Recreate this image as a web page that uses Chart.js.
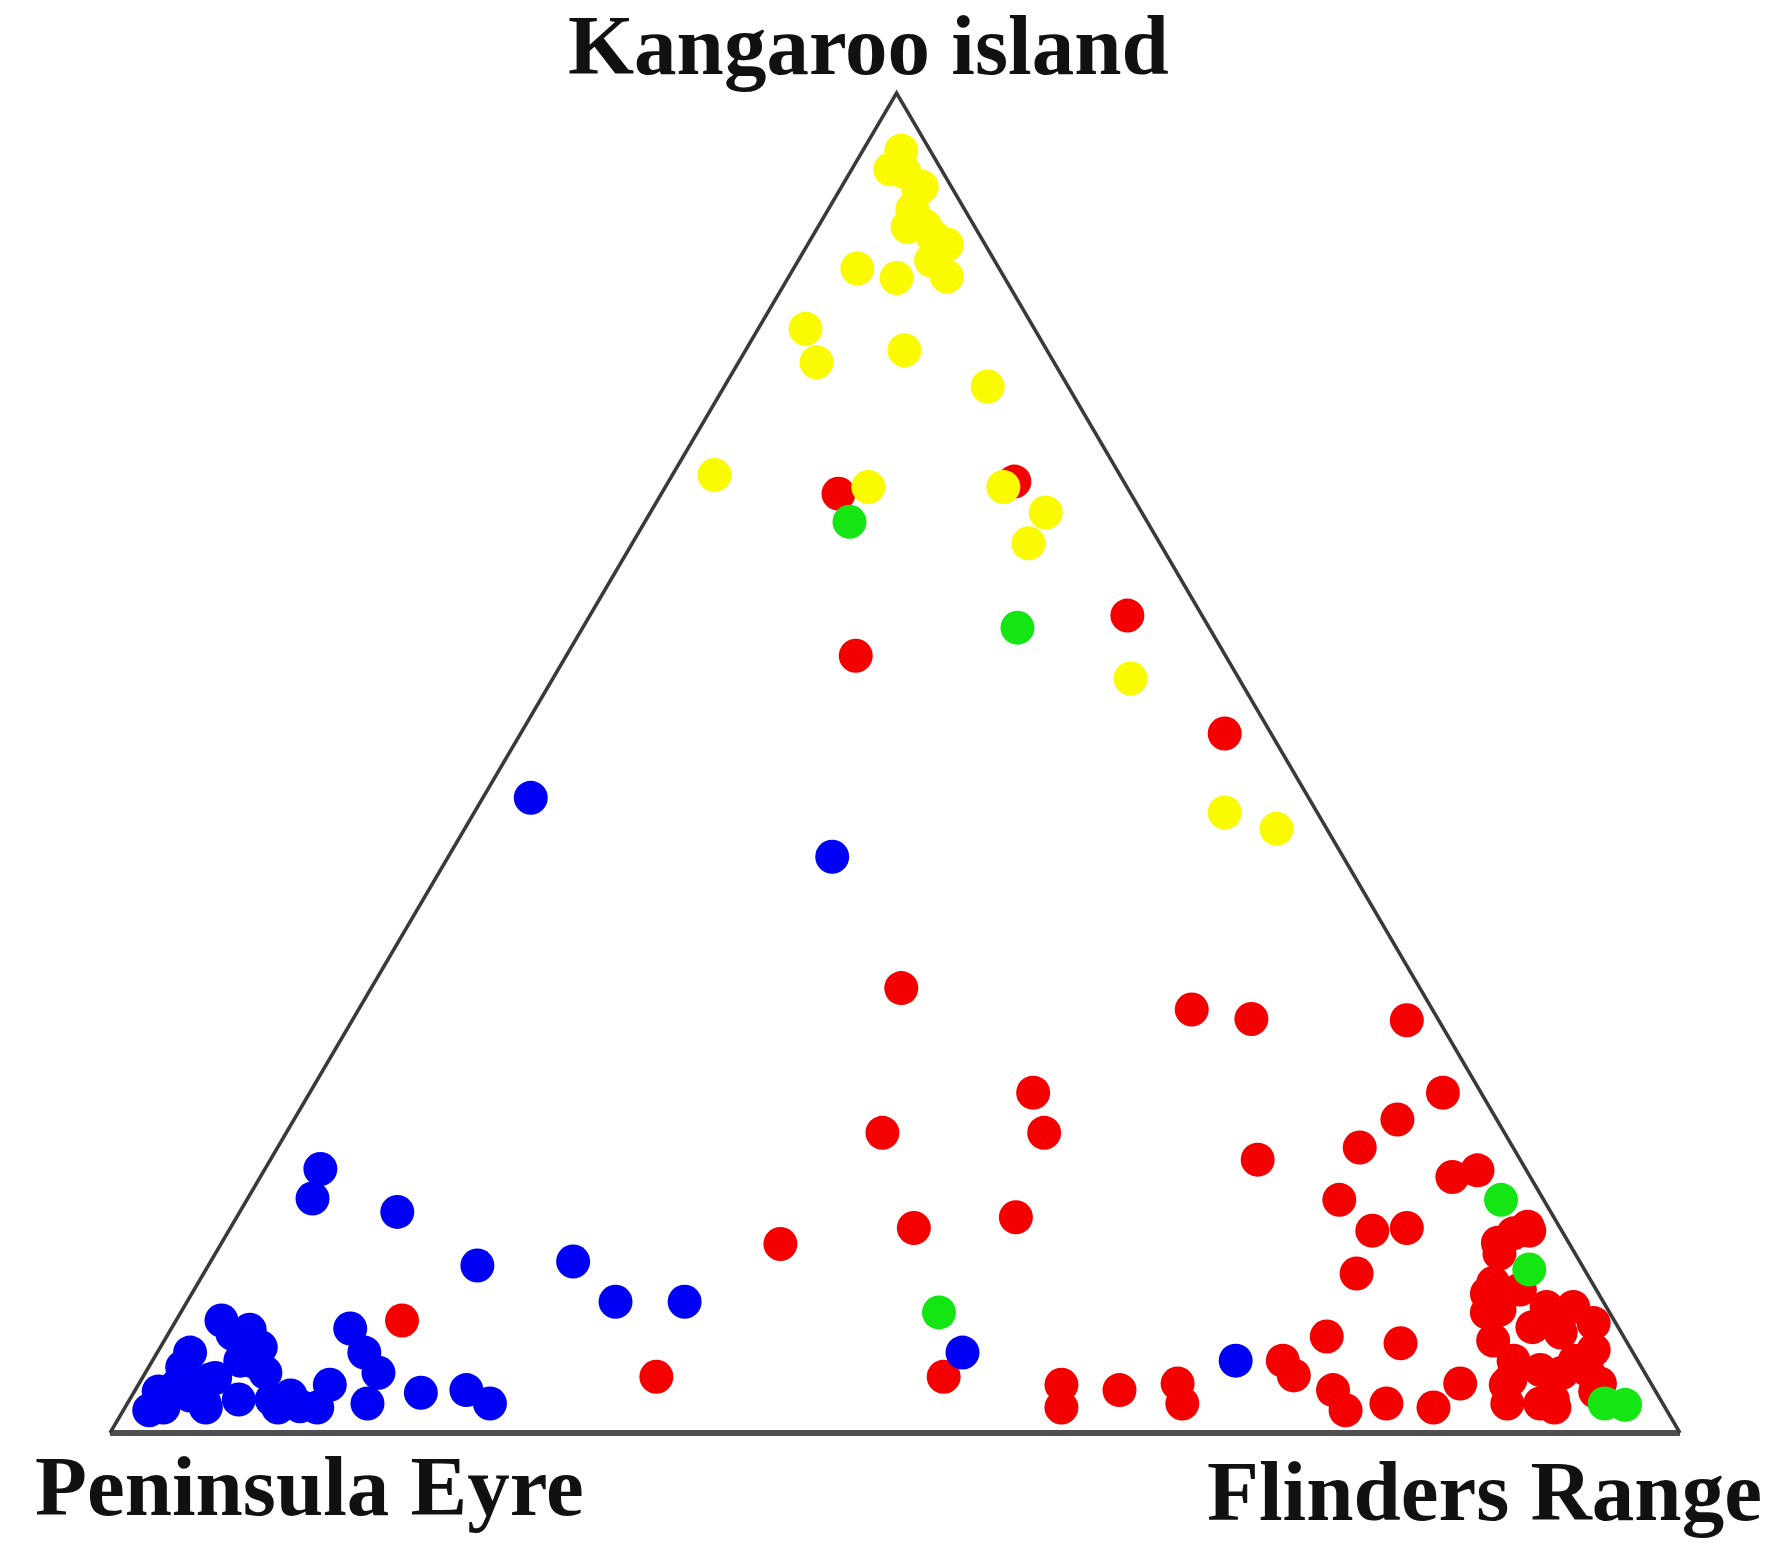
<!DOCTYPE html>
<html>
<head>
<meta charset="utf-8">
<title>Ternary plot</title>
<script src="https://cdn.jsdelivr.net/npm/chart.js@4.4.1/dist/chart.umd.min.js"></script>
<style>
    body { margin: 0; background: #fff; }
    #wrap { position: relative; width: 1780px; height: 1558px; }
    #chart { position: absolute; left: 0; top: 0; }
    .corner {
        position: absolute;
        font-family: "Liberation Serif", "Times New Roman", serif;
        font-weight: bold;
        font-size: 85px;
        line-height: 85px;
        color: #111;
        white-space: nowrap;
    }
</style>
</head>
<body>
<div id="wrap">
    <canvas id="chart" width="1780" height="1558"></canvas>
    <div class="corner" style="left:568px; top:3px;">Kangaroo island</div>
    <div class="corner" style="left:35px; top:1444px;">Peninsula Eyre</div>
    <div class="corner" style="left:1207px; top:1449px;">Flinders Range</div>
</div>
<script>
// Toạ độ trong tam giác: x = 0..100 dọc cạnh đáy, y = 0..100 theo chiều cao (đỉnh = Kangaroo island)
const frame = [[0, 0], [100, 0], [50.1, 100], [0, 0]];

// Nhóm vàng
const yellowPts = [
    [50.4, 95.7], [50.6, 94.1], [51.5, 92.8], [51.1, 91.3], [51.9, 90.1],
    [53.3, 88.7], [53.3, 86.3], [47.6, 86.9], [50.1, 86.2], [44.3, 82.4],
    [45.0, 79.9], [50.6, 80.8], [55.9, 78.1], [38.5, 71.5], [48.3, 70.6],
    [56.9, 70.6], [59.6, 68.7], [58.5, 66.4], [65.0, 56.3], [71.0, 46.3],
    [74.3, 45.1], [52.4, 89.3], [49.7, 94.3], [51.7, 93.0], [52.3, 87.5],
    [50.8, 90.0]
];

// Nhóm đỏ
const redPts = [
    [46.4, 70.1], [57.6, 71.0], [64.8, 61.0], [47.5, 58.0], [71.0, 52.2],
    [50.4, 33.2], [68.9, 31.6], [72.7, 30.9], [82.6, 30.8], [58.8, 25.4],
    [59.5, 22.4], [49.2, 22.4], [84.9, 25.4], [82.0, 23.4], [79.6, 21.3],
    [73.1, 20.4], [57.7, 16.1], [51.2, 15.3], [42.7, 14.1], [78.3, 17.4],
    [85.5, 19.1], [87.1, 19.6], [80.4, 15.1], [82.6, 15.3], [79.4, 11.9],
    [18.6, 8.4], [34.8, 4.2], [53.1, 4.2], [60.6, 3.6], [60.6, 1.9],
    [64.3, 3.2], [68.0, 3.7], [68.3, 2.2], [74.7, 5.4], [75.4, 4.3],
    [77.5, 7.2], [77.9, 3.2], [78.7, 1.7], [81.3, 2.2], [82.2, 6.7],
    [84.3, 1.9], [86.0, 3.7], [89.0, 2.2],
    [89.4, 14.9], [90.4, 15.1], [88.5, 13.4], [88.1, 11.2], [87.7, 9.0],
    [88.1, 6.9], [89.4, 5.4], [91.1, 4.7], [92.5, 4.5], [94.1, 4.7],
    [94.5, 6.2], [94.5, 8.2], [93.2, 9.4], [91.5, 9.4], [90.6, 7.9],
    [92.4, 7.5], [91.9, 2.5], [91.1, 2.2], [94.9, 3.7], [89.8, 10.7],
    [88.9, 3.6], [88.5, 9.2], [93.3, 5.4], [89.2, 4.0], [93.5, 5.3],
    [94.6, 3.1], [92.0, 1.9], [88.4, 14.2], [90.3, 15.4], [87.7, 10.4]
];

// Nhóm xanh dương
const bluePts = [
    [26.8, 47.4], [46.0, 43.0], [54.3, 6.0], [71.7, 5.4], [13.4, 19.7],
    [12.9, 17.5], [18.3, 16.5], [23.4, 12.5], [29.5, 12.8], [32.2, 9.8],
    [36.6, 9.8],
    [7.1, 8.4], [5.1, 6.0], [9.6, 6.4], [4.3, 3.6], [6.7, 4.1],
    [9.9, 4.5], [3.4, 1.9], [6.1, 1.9], [8.2, 2.5], [10.3, 2.5],
    [12.1, 2.0], [13.2, 1.9], [14.0, 3.6], [15.3, 7.8], [16.2, 6.0],
    [17.1, 4.5], [16.4, 2.2], [19.8, 3.0], [22.7, 3.2], [24.2, 2.2],
    [2.5, 1.7], [5.1, 2.8], [8.3, 5.4], [8.9, 7.7], [11.5, 2.8],
    [3.1, 3.1], [4.6, 4.9], [9.2, 5.3], [7.8, 7.4], [6.0, 2.3],
    [10.7, 1.9], [6.4, 4.0]
];

// Nhóm xanh lá
const greenPts = [
    [47.1, 68.0], [57.8, 60.1], [52.8, 9.0], [88.6, 17.4], [90.4, 12.2],
    [95.2, 2.2], [96.5, 2.1]
];

function toXY(list) {
    return list.map(function(p) {
        return { x: p[0], y: p[1] };
    });
}

function dotSet(label, pts, color, order) {
    return {
        label: label,
        data: toXY(pts),
        backgroundColor: color,
        borderColor: color,
        borderWidth: 0,
        pointRadius: 17,
        pointHoverRadius: 17,
        showLine: false,
        clip: false,
        order: order
    };
}

const ctx = document.getElementById('chart').getContext('2d');

const ternaryChart = new Chart(ctx, {
    type: 'scatter',
    data: {
        datasets: [
            dotSet('green', greenPts, '#14e614', 0),
            dotSet('blue', bluePts, '#0000f5', 1),
            dotSet('yellow', yellowPts, '#fafa00', 2),
            dotSet('red', redPts, '#f50000', 3),
            {
                label: 'frame',
                type: 'line',
                data: toXY(frame),
                borderColor: '#3a3a3a',
                borderWidth: 3.5,
                pointRadius: 0,
                fill: false,
                tension: 0,
                clip: false,
                order: 4,
                segment: {
                    // cạnh đáy dày hơn hai cạnh bên
                    borderWidth: function(c) {
                        return c.p0DataIndex === 0 ? 6 : 3.5;
                    },
                    borderColor: function(c) {
                        return c.p0DataIndex === 0 ? '#505050' : '#3a3a3a';
                    }
                }
            }
        ]
    },
    options: {
        responsive: false,
        animation: false,
        layout: {
            padding: { left: 110, right: 100, top: 93, bottom: 125 }
        },
        scales: {
            x: { type: 'linear', min: 0, max: 100, display: false },
            y: { type: 'linear', min: 0, max: 100, display: false }
        },
        plugins: {
            legend: { display: false },
            tooltip: { enabled: false }
        }
    }
});
</script>
</body>
</html>
